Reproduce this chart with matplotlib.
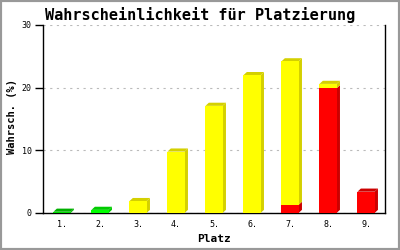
import numpy as np
import matplotlib.pyplot as plt
from matplotlib.patches import Polygon, Rectangle

# Place / probability data
places = ['1.', '2.', '3.', '4.', '5.', '6.', '7.', '8.', '9.']
lower = [0.2, 0.5, 1.9, 9.8, 17.1, 22.0, 1.3, 19.9, 3.4]   # bottom segment
upper = [0.0, 0.0, 0.0, 0.0, 0.0, 0.0, 22.9, 0.7, 0.0]     # stacked segment
lower_colors = ['#00dd00', '#00ff00', '#ffff00', '#ffff00', '#ffff00',
                '#ffff00', '#ff0000', '#ff0000', '#ff0000']
upper_colors = ['#ffff00'] * 9

shade = {'#00dd00': '#00b000', '#00ff00': '#00cc00',
         '#ffff00': '#d4d000', '#ff0000': '#cc0000'}

fig = plt.figure(figsize=(4, 2.5), dpi=100)
ax = fig.add_axes([43 / 400, 1 - 213 / 250, 342 / 400, 188 / 250])

x = np.arange(1, len(places) + 1)
width = 0.45
dx, dy = 0.09, 0.5  # depth of the fake 3D faces


def draw_block(xc, y0, h, color, top=True):
    left, right = xc - width / 2, xc + width / 2
    y1 = y0 + h
    ax.add_patch(Polygon([(right, y0), (right + dx, y0 + dy),
                          (right + dx, y1 + dy), (right, y1)],
                         closed=True, facecolor=shade[color],
                         edgecolor='none', zorder=3))
    if top:
        ax.add_patch(Polygon([(left, y1), (left + dx, y1 + dy),
                              (right + dx, y1 + dy), (right, y1)],
                             closed=True, facecolor=shade[color],
                             edgecolor='none', zorder=3))


for xi, lo, up, lc, uc in zip(x, lower, upper, lower_colors, upper_colors):
    ax.bar(xi, lo, width=width, color=lc, zorder=4)
    draw_block(xi, 0, lo, lc, top=(up == 0))
    if up > 0:
        ax.bar(xi, up, bottom=lo, width=width, color=uc, zorder=4)
        draw_block(xi, lo, up, uc)

ax.set_xlim(0.5, 9.5)
ax.set_ylim(0, 30)
ax.set_xticks(x)
ax.set_xticklabels(places, family='DejaVu Sans Mono', fontsize=6)
ax.set_yticks([0, 10, 20, 30])
ax.set_yticklabels(['0', '10', '20', '30'], family='DejaVu Sans Mono',
                   fontsize=6)
ax.tick_params(axis='x', length=0, pad=5)
ax.tick_params(axis='y', length=6, width=1, pad=2)
ax.yaxis.grid(True, linestyle=(0, (2, 4)), color='#bbbbbb', linewidth=0.8)
ax.set_axisbelow(True)
ax.spines['top'].set_visible(False)
for s in ['left', 'right', 'bottom']:
    ax.spines[s].set_linewidth(1)
    ax.spines[s].set_color('black')

fig.text(0.5, 0.94, 'Wahrscheinlichkeit für Platzierung',
         family='DejaVu Sans Mono', fontweight='bold', fontsize=11,
         ha='center', va='center')
fig.text(214 / 400, 1 - 239 / 250, 'Platz', family='DejaVu Sans Mono',
         fontweight='bold', fontsize=8, ha='center', va='center')
fig.text(12 / 400, 1 - 117 / 250, 'Wahrsch. (%)', family='DejaVu Sans Mono',
         fontweight='bold', fontsize=7.5, ha='center', va='center',
         rotation=90)

fig.patches.append(Rectangle((0, 0), 1, 1, transform=fig.transFigure,
                             fill=False, edgecolor='#999999', linewidth=3))

fig.savefig('out.png', dpi=100)
